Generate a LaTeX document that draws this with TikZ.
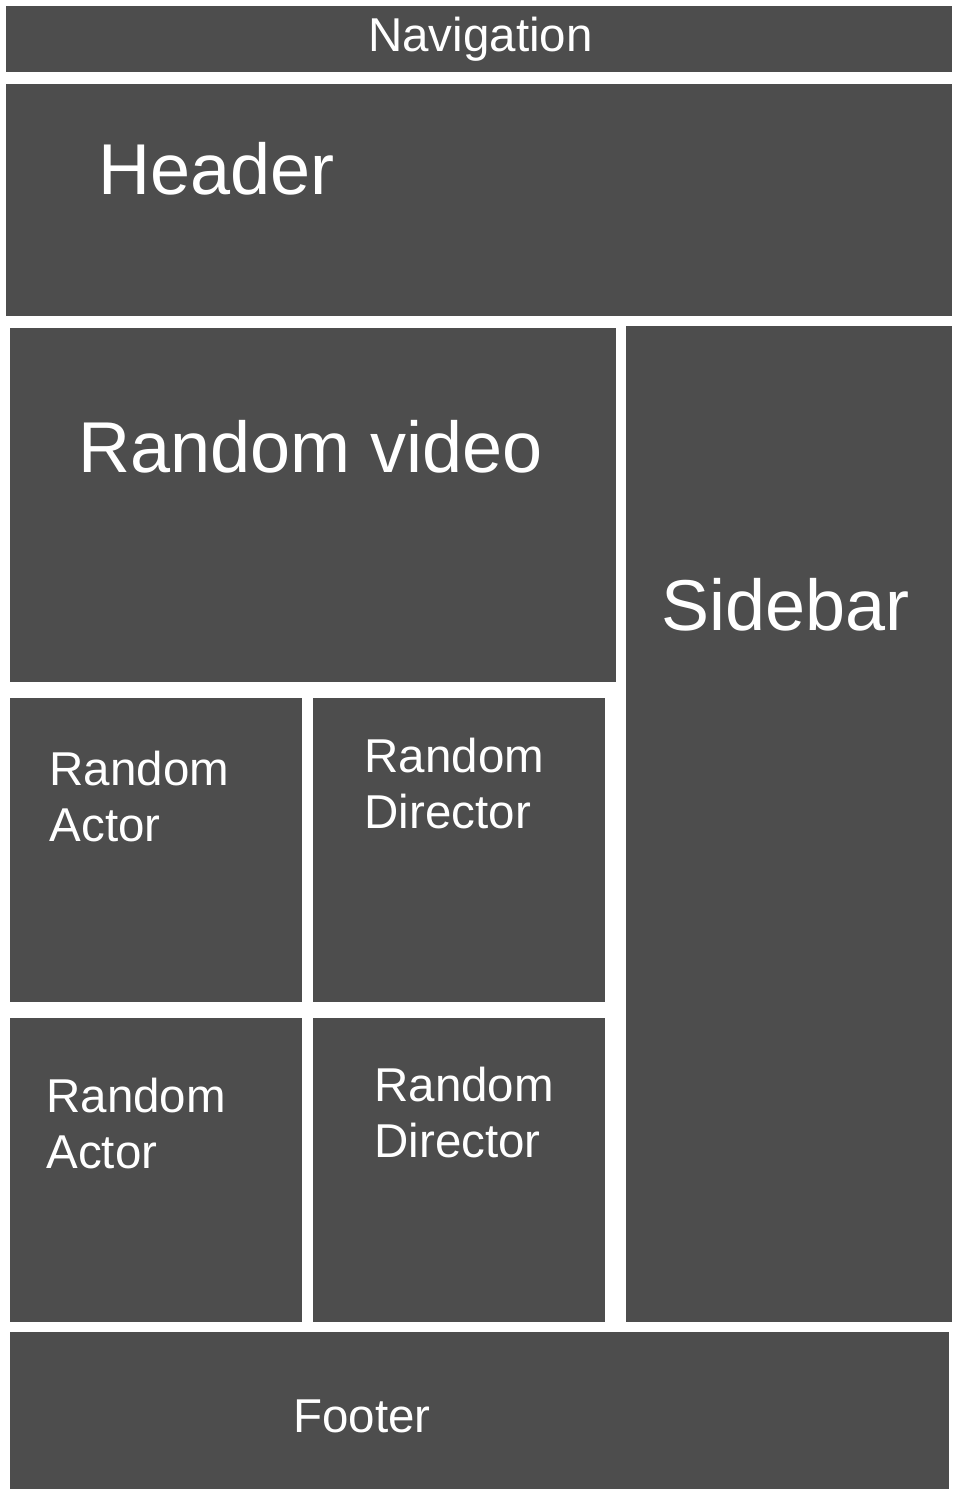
\documentclass[tikz,border=0pt]{standalone}
\usepackage{fontspec}
\setmainfont{Liberation Sans}
\definecolor{boxgray}{HTML}{4D4D4D}
\begin{document}
\begin{tikzpicture}[x=1pt,y=-1pt,
  panel/.style={fill=boxgray},
  small/.style={text=white,inner sep=0pt,anchor=base west,align=left,font=\fontsize{47.5}{56}\selectfont},
  big/.style={text=white,inner sep=0pt,anchor=base west,font=\fontsize{72}{84}\selectfont}]
\useasboundingbox[fill=white] (0,0) rectangle (960,1500);
% panels
\fill[panel] (6,6) rectangle (952,72);
\fill[panel] (6,84) rectangle (952,316);
\fill[panel] (10,328) rectangle (616,682);
\fill[panel] (626,326) rectangle (952,1322);
\fill[panel] (10,698) rectangle (302,1002);
\fill[panel] (313,698) rectangle (605,1002);
\fill[panel] (10,1018) rectangle (302,1322);
\fill[panel] (313,1018) rectangle (605,1322);
\fill[panel] (10,1332) rectangle (949,1489);
% labels (base anchor of a two-line node = baseline of its last line)
\node[small] (nav) at (368,51) {Navigation};
\node[big] (header) at (98,194) {Header};
\node[big] (video) at (78,472) {Random video};
\node[big] (sidebar) at (661,630) {Sidebar};
\node[small] (actorA) at (49.5,841) {Random\\Actor};
\node[small] (directorA) at (364.5,828) {Random\\Director};
\node[small] (actorB) at (46.2,1168) {Random\\Actor};
\node[small] (directorB) at (374.2,1157) {Random\\Director};
\node[small] (footer) at (293,1432) {Footer};
\end{tikzpicture}
\end{document}
